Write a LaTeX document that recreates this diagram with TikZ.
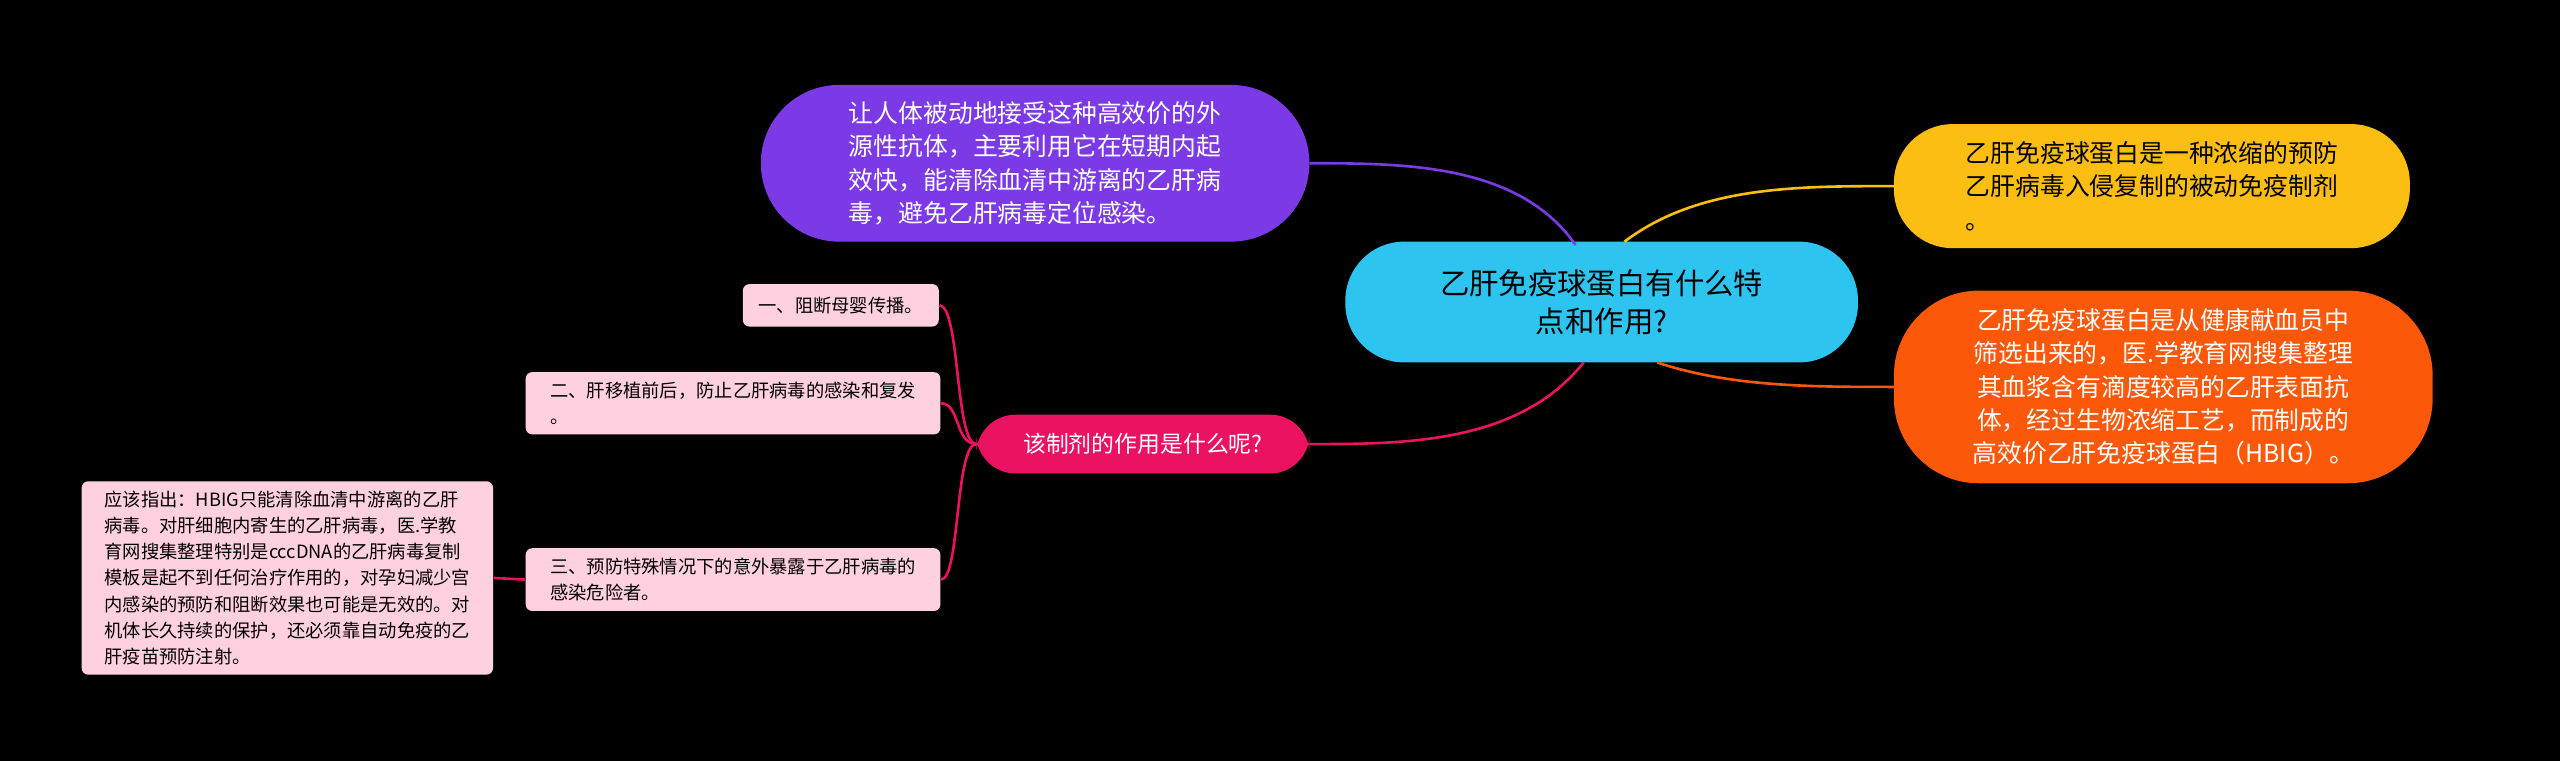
\documentclass[tikz,border=0pt]{standalone}
\usepackage{fontspec}
\setmainfont{Noto Sans CJK SC}
\definecolor{bgc}{RGB}{0,0,0}
\definecolor{rootc}{RGB}{46,196,240}
\definecolor{purc}{RGB}{124,58,230}
\definecolor{yelc}{RGB}{252,190,18}
\definecolor{orac}{RGB}{252,88,10}
\definecolor{pinc}{RGB}{236,18,98}
\definecolor{leafc}{RGB}{255,208,224}
\tikzset{
  big/.style={inner sep=0pt,align=left,font=\fontsize{7.6}{10.2}\selectfont},
  leaf/.style={fill=leafc,rounded corners=2pt,inner sep=3pt,align=left,font=\fontsize{5.6}{8}\selectfont,text=black},
  link/.style={line width=0.8pt}
}
\begin{document}
\begin{tikzpicture}[x=0.5pt,y=-0.5pt]
  \fill[bgc](0,0) rectangle (1568,466);

  \fill[rootc,rounded corners=18pt](824,148) rectangle (1138,222);
  \node[font=\fontsize{9}{11.5}\selectfont,align=center] (root) at (981,185) {乙肝免疫球蛋白有什么特\\点和作用?};

  \fill[purc,rounded corners=24pt](466,52) rectangle (802,148);
  \node[big,text=white] (pur) at (634,100) {让人体被动地接受这种高效价的外\\源性抗体，主要利用它在短期内起\\效快，能清除血清中游离的乙肝病\\毒，避免乙肝病毒定位感染。};

  \fill[yelc,rounded corners=18pt](1160,76) rectangle (1476,152);
  \node[big,text=black] (yel) at (1318,114) {乙肝免疫球蛋白是一种浓缩的预防\\乙肝病毒入侵复制的被动免疫制剂\\。};

  \fill[orac,rounded corners=26pt](1160,178) rectangle (1490,296);
  \node[big,text=white,align=center] (ora) at (1325,237) {乙肝免疫球蛋白是从健康献血员中\\筛选出来的，医.学教育网搜集整理\\其血浆含有滴度较高的乙肝表面抗\\体，经过生物浓缩工艺，而制成的\\高效价乙肝免疫球蛋白（HBIG）。};

  \fill[pinc,rounded corners=12pt](598,254) rectangle (802,290);
  \node[font=\fontsize{7}{9}\selectfont,text=white] (pin) at (700,272) {该制剂的作用是什么呢?};

  \node[leaf,minimum width=60pt,minimum height=13pt] (l1) at (515,187) {一、阻断母婴传播。};
  \node[leaf,minimum width=127pt] (l2) at (449,247) {二、肝移植前后，防止乙肝病毒的感染和复发\\。};
  \node[leaf,minimum width=127pt] (l3) at (449,355) {三、预防特殊情况下的意外暴露于乙肝病毒的\\感染危险者。};
  \node[leaf,minimum width=126pt] (l4) at (176,354) {应该指出：HBIG只能清除血清中游离的乙肝\\病毒。对肝细胞内寄生的乙肝病毒，医.学教\\育网搜集整理特别是cccDNA的乙肝病毒复制\\模板是起不到任何治疗作用的，对孕妇减少宫\\内感染的预防和阻断效果也可能是无效的。对\\机体长久持续的保护，还必须靠自动免疫的乙\\肝疫苗预防注射。};

  \coordinate (rt) at (965,150);
  \coordinate (ry) at (995,148);
  \coordinate (ro) at (1015,222);
  \coordinate (rb) at (970,222);
  \draw[link,purc](rt) .. controls (930,100) and (860,100) .. (802,100);
  \draw[link,yelc](ry) .. controls (1040,114) and (1100,114) .. (1160,114);
  \draw[link,orac](ro) .. controls (1060,237) and (1110,237) .. (1160,237);
  \draw[link,pinc](rb) .. controls (930,272) and (860,272) .. (802,272);

  \draw[link,pinc](598,272) .. controls (585,272) and (588,187) .. (l1.east);
  \draw[link,pinc](598,272) .. controls (585,272) and (588,247) .. (l2.east);
  \draw[link,pinc](598,272) .. controls (585,272) and (588,355) .. (l3.east);
  \draw[link,pinc](l3.west) -- (l4.east);
\end{tikzpicture}
\end{document}
